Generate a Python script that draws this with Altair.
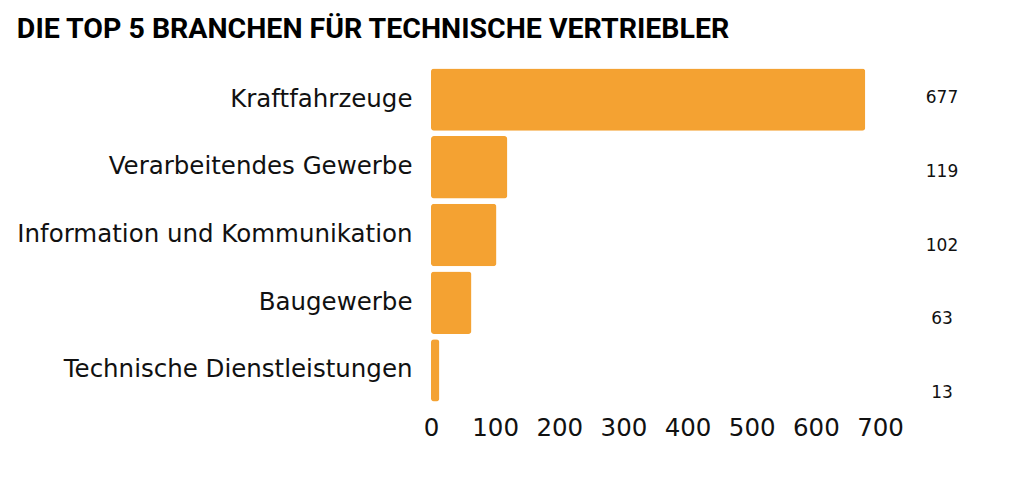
import altair as alt
import pandas as pd

categories = [
    "Kraftfahrzeuge",
    "Verarbeitendes Gewerbe",
    "Information und Kommunikation",
    "Baugewerbe",
    "Technische Dienstleistungen",
]
values = [677, 119, 102, 63, 13]
x_ticks = [0, 100, 200, 300, 400, 500, 600, 700]
title_text = "DIE TOP 5 BRANCHEN FÜR TECHNISCHE VERTRIEBLER"

df = pd.DataFrame({"Branche": categories, "Anzahl": values})

BAR = "#F4A232"
FONT = "DejaVu Sans"
W, H = 449, 340

bars = alt.Chart(df).mark_bar(color=BAR, cornerRadius=3).encode(
    y=alt.Y(
        "Branche:N",
        sort=categories,
        scale=alt.Scale(paddingInner=0.08, paddingOuter=0.05),
        axis=alt.Axis(
            title=None,
            domain=False,
            ticks=False,
            grid=False,
            labelFontSize=24.5,
            labelFont=FONT,
            labelColor="#111111",
            labelPadding=19,
            labelLimit=500,
        ),
    ),
    x=alt.X(
        "Anzahl:Q",
        scale=alt.Scale(domain=[0, 700], nice=False),
        axis=alt.Axis(
            title=None,
            values=x_ticks,
            domain=False,
            ticks=False,
            grid=False,
            labelFontSize=24.5,
            labelFont=FONT,
            labelColor="#111111",
            labelPadding=11,
            labelFlush=False,
        ),
    ),
)

labels = alt.Chart(df).mark_text(
    fontSize=17, font=FONT, color="#111111", align="center", baseline="middle"
).encode(
    y=alt.Y(
        "Branche:N",
        sort=categories,
        scale=alt.Scale(type="point", range=[33, 328], padding=0),
        axis=None,
    ),
    x=alt.value(511),
    text=alt.Text("Anzahl:Q"),
)

chart = (
    alt.layer(bars, labels)
    .resolve_scale(y="independent")
    .properties(
        width=W,
        height=H,
        view=alt.ViewBackground(strokeWidth=0, fill="white"),
        title=alt.TitleParams(
            title_text,
            anchor="start",
            fontSize=28.5,
            font="Roboto",
            fontWeight="bold",
            color="#000000",
            offset=22,
        ),
        padding={"left": 8, "top": 6, "right": 5, "bottom": 5},
    )
    .configure_view(strokeWidth=0)
    .configure(background="white")
)

chart.save("out.html", embed_options={"renderer": "svg", "actions": False})
